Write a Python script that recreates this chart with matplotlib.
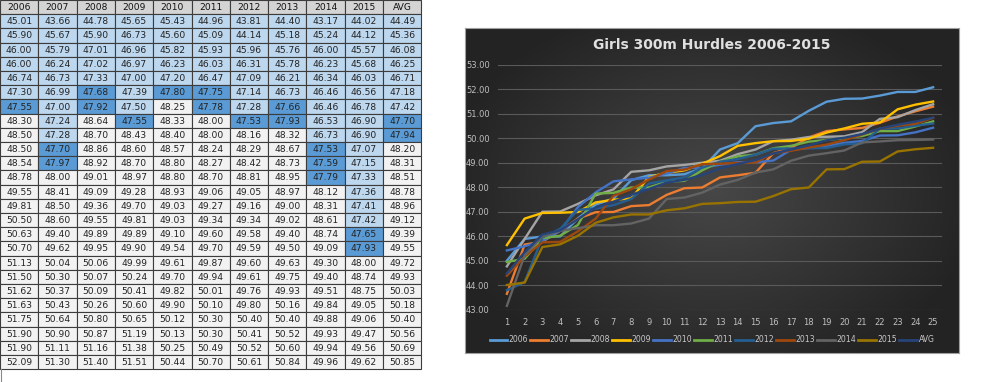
import matplotlib.pyplot as plt
import numpy as np
from matplotlib.patches import Rectangle

places = list(range(1, 26))
headers = ["2006", "2007", "2008", "2009", "2010", "2011", "2012", "2013", "2014", "2015", "AVG"]

t2006 = [45.01, 45.90, 46.00, 46.00, 46.74, 47.30, 47.55, 48.30, 48.50, 48.50, 48.54, 48.78, 49.55,
         49.81, 50.50, 50.63, 50.70, 51.13, 51.50, 51.62, 51.63, 51.75, 51.90, 51.90, 52.09]
t2007 = [43.66, 45.67, 45.79, 46.24, 46.73, 46.99, 47.00, 47.24, 47.28, 47.70, 47.97, 48.00, 48.41,
         48.50, 48.60, 49.40, 49.62, 50.04, 50.30, 50.37, 50.43, 50.64, 50.90, 51.11, 51.30]
t2008 = [44.78, 45.90, 47.01, 47.02, 47.33, 47.68, 47.92, 48.64, 48.70, 48.86, 48.92, 49.01, 49.09,
         49.36, 49.55, 49.89, 49.95, 50.06, 50.07, 50.09, 50.26, 50.80, 50.87, 51.16, 51.40]
t2009 = [45.65, 46.73, 46.96, 46.97, 47.00, 47.39, 47.50, 47.55, 48.43, 48.60, 48.70, 48.97, 49.28,
         49.70, 49.81, 49.89, 49.90, 49.99, 50.24, 50.41, 50.60, 50.65, 51.19, 51.38, 51.51]
t2010 = [45.43, 45.60, 45.82, 46.23, 47.20, 47.80, 48.25, 48.33, 48.40, 48.57, 48.80, 48.80, 48.93,
         49.03, 49.03, 49.10, 49.54, 49.61, 49.70, 49.82, 49.90, 50.12, 50.13, 50.25, 50.44]
t2011 = [44.96, 45.09, 45.93, 46.03, 46.47, 47.75, 47.78, 48.00, 48.00, 48.24, 48.27, 48.70, 49.06,
         49.27, 49.34, 49.60, 49.70, 49.87, 49.94, 50.01, 50.10, 50.30, 50.30, 50.49, 50.70]
t2012 = [43.81, 44.14, 45.96, 46.31, 47.09, 47.14, 47.28, 47.53, 48.16, 48.29, 48.42, 48.81, 49.05,
         49.16, 49.34, 49.58, 49.59, 49.60, 49.61, 49.76, 49.80, 50.40, 50.41, 50.52, 50.61]
t2013 = [44.40, 45.18, 45.76, 45.78, 46.21, 46.73, 47.66, 47.93, 48.32, 48.67, 48.73, 48.95, 48.97,
         49.00, 49.02, 49.40, 49.50, 49.63, 49.75, 49.93, 50.16, 50.40, 50.52, 50.60, 50.84]
t2014 = [43.17, 45.24, 46.00, 46.23, 46.34, 46.46, 46.46, 46.53, 46.73, 47.53, 47.59, 47.79, 48.12,
         48.31, 48.61, 48.74, 49.09, 49.30, 49.40, 49.51, 49.84, 49.88, 49.93, 49.94, 49.96]
t2015 = [44.02, 44.12, 45.57, 45.68, 46.03, 46.56, 46.78, 46.90, 46.90, 47.07, 47.15, 47.33, 47.36,
         47.41, 47.42, 47.65, 47.93, 48.00, 48.74, 48.75, 49.05, 49.06, 49.47, 49.56, 49.62]
t_avg = [44.49, 45.36, 46.08, 46.25, 46.71, 47.18, 47.42, 47.70, 47.94, 48.20, 48.31, 48.51, 48.78,
         48.96, 49.12, 49.39, 49.55, 49.72, 49.93, 50.03, 50.18, 50.40, 50.56, 50.69, 50.85]

columns = [t2006, t2007, t2008, t2009, t2010, t2011, t2012, t2013, t2014, t2015, t_avg]
line_colors = ["#5B9BD5", "#ED7D31", "#A5A5A5", "#FFC000", "#4472C4", "#70AD47",
               "#255E91", "#9E480E", "#636363", "#997300", "#264478"]

fig = plt.figure(figsize=(10, 3.82), dpi=100)
fig.patch.set_facecolor("white")

# ---- table (pixel coordinates) ----
axt = fig.add_axes([0, 0, 1, 1])
axt.set_xlim(0, 1000)
axt.set_ylim(382, 0)
axt.axis("off")

cw, rh = 38.3, 14.2


def cell_color(v):
    if v < 47.505:
        return "#BDD7EE"
    if v < 48.0:
        return "#5B9BD5"
    return "#F2F2F2"


for j, h in enumerate(headers):
    axt.add_patch(Rectangle((j * cw, 0), cw, rh, facecolor="#D4D4D4", edgecolor="#3C3C3C", lw=0.8))
    axt.text(j * cw + cw / 2, rh / 2 + 0.5, h, ha="center", va="center", fontsize=6.6, color="#111111")
    for i, v in enumerate(columns[j]):
        y = rh * (i + 1)
        axt.add_patch(Rectangle((j * cw, y), cw, rh, facecolor=cell_color(v), edgecolor="#3C3C3C", lw=0.8))
        axt.text(j * cw + cw / 2, y + rh / 2 + 0.5, f"{v:.2f}", ha="center", va="center",
                 fontsize=6.6, color="#222222")
axt.plot([1, 1], [rh * 26, 382], color="#888888", lw=0.8)

# ---- chart background with radial gradient ----
axb = fig.add_axes([0.465, 0.0759, 0.494, 0.8508])
yy, xx = np.mgrid[-1:1:200j, -1:1:300j]
r = np.sqrt(xx ** 2 + (yy * 0.9) ** 2)
shade = np.clip(0.28 - 0.13 * r, 0.14, 0.3)
axb.imshow(np.dstack([shade] * 3), aspect="auto", extent=[0, 1, 0, 1])
axb.set_xticks([])
axb.set_yticks([])
for s in axb.spines.values():
    s.set_color("#A0A0A0")
    s.set_linewidth(0.8)

fig.text(0.712, 0.882, "Girls 300m Hurdles 2006-2015", ha="center", va="center",
         fontsize=10, fontweight="bold", color="#E0E0E0")

# ---- line chart ----
ax = fig.add_axes([0.498, 0.1885, 0.444, 0.6414])
ax.patch.set_alpha(0)
for h, vals, c in zip(headers, columns, line_colors):
    ax.plot(places, vals, color=c, lw=1.7, label=h)

ax.set_xlim(0.5, 25.5)
ax.set_ylim(43, 53)
ax.set_yticks(np.arange(43, 54, 1))
ax.set_yticklabels([f"{v:.2f}" for v in np.arange(43, 54, 1)])
ax.set_xticks(places)
ax.grid(axis="y", color="#5A5A5A", lw=0.8)
ax.set_axisbelow(True)
for s in ax.spines.values():
    s.set_visible(False)
ax.tick_params(length=0, labelsize=6, colors="#BFBFBF", pad=6)

leg = fig.legend(loc="center", bbox_to_anchor=(0.712, 0.110), ncol=11, frameon=False,
                 fontsize=5.6, handlelength=2.3, handletextpad=0.15, columnspacing=0.3,
                 borderpad=0.2)
for t in leg.get_texts():
    t.set_color("#C8C8C8")
for ln in leg.get_lines():
    ln.set_linewidth(2)

fig.savefig("out.png", dpi=100)
